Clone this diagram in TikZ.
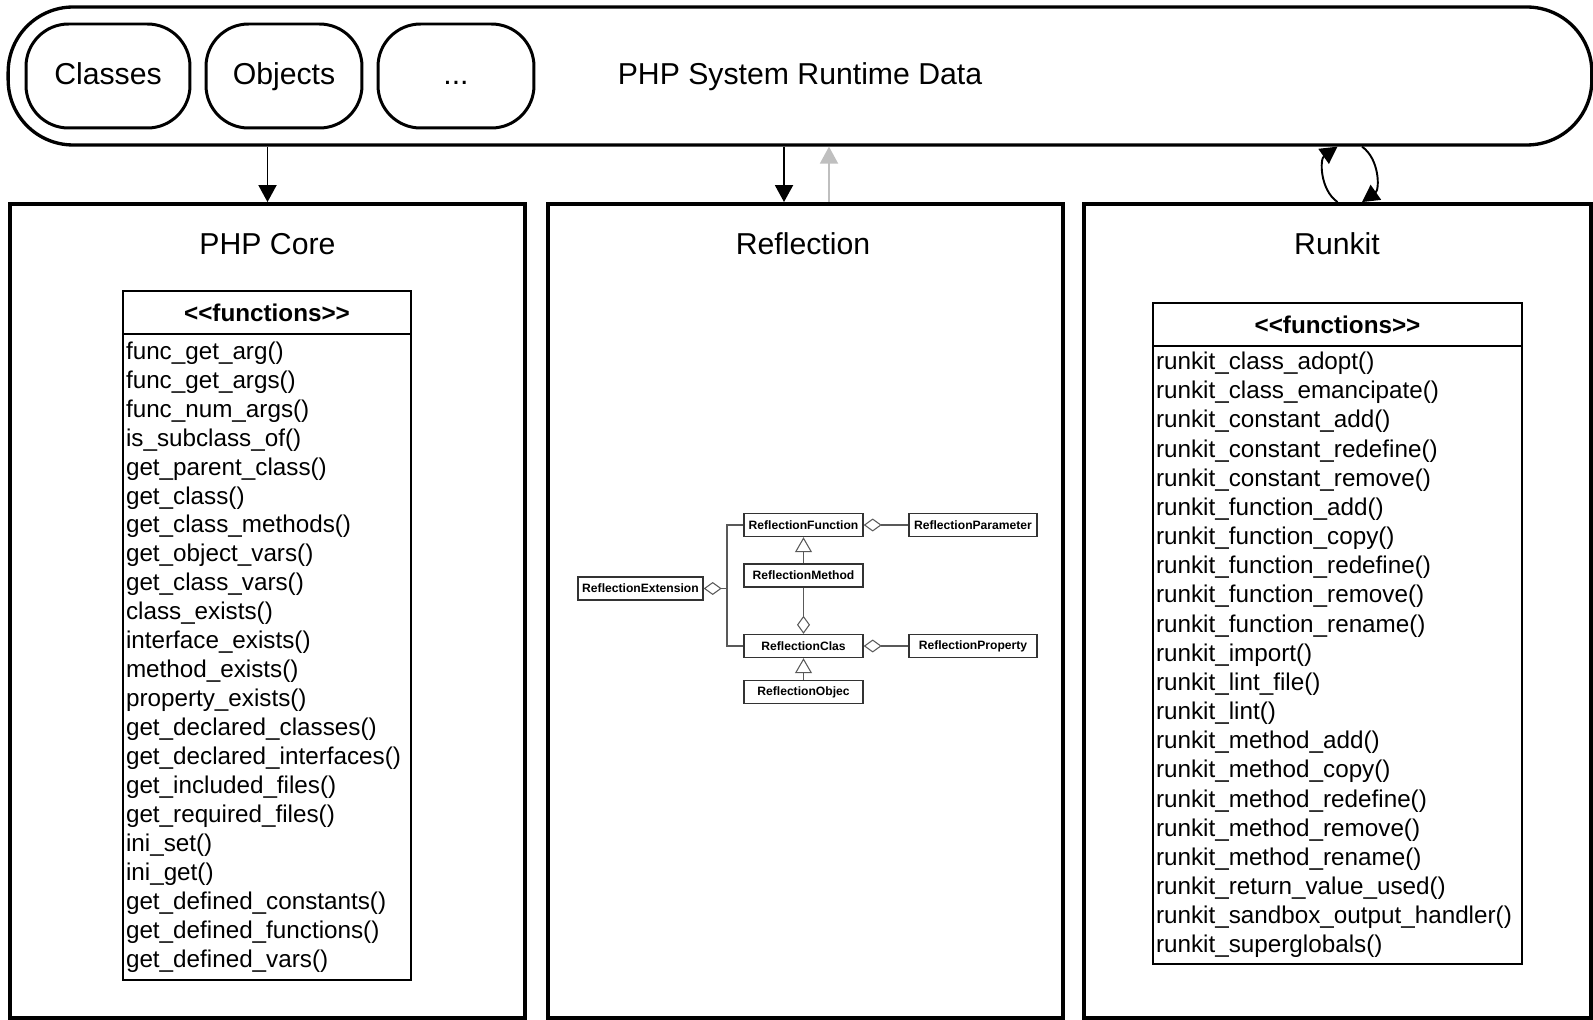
\documentclass[tikz,border=0pt]{standalone}
\usepackage{fontspec}
\setmainfont{Liberation Sans}
\usetikzlibrary{arrows.meta,positioning}

\begin{document}
\begin{tikzpicture}[x=0.02cm,y=-0.02cm,
    big/.style={font=\fontsize{17.2}{20}\selectfont,text height=12.4pt,text depth=2.5pt},
    pill/.style={big,draw,line width=1.7pt,rounded corners=0.85cm,minimum height=2.08cm},
    panel/.style={draw,line width=2.3pt,minimum height=16.28cm},
    head/.style={draw,line width=1pt,outer sep=0pt,minimum height=0.87cm,font=\bfseries\fontsize{13.8}{16.5}\selectfont},
    fnlist/.style={draw,line width=1pt,outer sep=0pt,align=left,inner xsep=0.06cm,font=\fontsize{13.8}{16.5}\selectfont},
    cls/.style={draw=black!80,line width=0.8pt,minimum height=0.46cm,inner sep=0pt,font=\bfseries\fontsize{6.9}{8}\selectfont},
    link/.style={draw=black!65,line width=0.6pt},
    agg/.style={link,-{Diamond[open,length=0.36cm,width=0.26cm]}},
    inh/.style={link,-{Triangle[open,length=0.3cm,width=0.34cm]}},
    flow/.style={line width=1.1pt,-{Triangle[length=0.34cm,width=0.36cm]}}]
    \useasboundingbox (0,0) rectangle (1593,1020);
    \node[draw,line width=1.9pt,rounded corners=1.3cm,minimum width=31.68cm,minimum height=2.76cm,big] (runtime) at (800,76) {PHP System Runtime Data};
    \node[pill,minimum width=3.28cm] (classes) at (108,76) {Classes};
    \node[pill,minimum width=3.12cm] (objects) at (284,76) {Objects};
    \node[pill,minimum width=3.12cm] (more) at (456,76) {...};

    \node[panel,minimum width=10.3cm] (core) at (267.5,611) {};
    \node[panel,minimum width=10.3cm] (refl) at (805.5,611) {};
    \node[panel,minimum width=10.14cm] (kit) at (1337.5,611) {};
    \node[big] (core title) at (267.5,246) {PHP Core};
    \node[big] (refl title) at (803,246) {Reflection};
    \node[big] (kit title) at (1337,246) {Runkit};

    \node[head,minimum width=5.76cm] (core head) at (267,312.5) {<\kern0pt<functions>\kern0pt>};
    \node[fnlist,text width=5.64cm,minimum height=12.92cm,below=0pt of core head] (core list) {
      func\_get\_arg()\\ func\_get\_args()\\ func\_num\_args()\\ is\_subclass\_of()\\
      get\_parent\_class()\\ get\_class()\\ get\_class\_methods()\\ get\_object\_vars()\\
      get\_class\_vars()\\ class\_exists()\\ interface\_exists()\\ method\_exists()\\
      property\_exists()\\ get\_declared\_classes()\\ get\_declared\_interfaces()\\
      get\_included\_files()\\ get\_required\_files()\\ ini\_set()\\ ini\_get()\\
      get\_defined\_constants()\\ get\_defined\_functions()\\ get\_defined\_vars()};

    \node[head,minimum width=7.38cm] (kit head) at (1337.5,324.5) {<\kern0pt<functions>\kern0pt>};
    \node[fnlist,text width=7.26cm,minimum height=12.25cm,below=0pt of kit head,font=\fontsize{13.8}{16.6}\selectfont] (kit list) {
      runkit\_class\_adopt()\\ runkit\_class\_emancipate()\\ runkit\_constant\_add()\\
      runkit\_constant\_redefine()\\ runkit\_constant\_remove()\\ runkit\_function\_add()\\
      runkit\_function\_copy()\\ runkit\_function\_redefine()\\ runkit\_function\_remove()\\
      runkit\_function\_rename()\\ runkit\_import()\\ runkit\_lint\_file()\\ runkit\_lint()\\
      runkit\_method\_add()\\ runkit\_method\_copy()\\ runkit\_method\_redefine()\\
      runkit\_method\_remove()\\ runkit\_method\_rename()\\ runkit\_return\_value\_used()\\
      runkit\_sandbox\_output\_handler()\\ runkit\_superglobals()};

    \node[cls,minimum width=2.38cm] (func) at (803.5,525) {ReflectionFunction};
    \node[cls,minimum width=2.56cm] (param) at (973,525) {ReflectionParameter};
    \node[cls,minimum width=2.38cm] (method) at (803.5,575.5) {ReflectionMethod};
    \node[cls,minimum width=2.5cm] (ext) at (640.5,588.5) {ReflectionExtension};
    \node[cls,minimum width=2.38cm] (clas) at (803.5,646) {ReflectionClas};
    \node[cls,minimum width=2.56cm] (prop) at (973,646) {ReflectionProperty};
    \node[cls,minimum width=2.38cm] (objec) at (803.5,692) {ReflectionObjec};
    \coordinate (ext join) at (727,588.5);
    \draw[agg] (param) -- (func);
    \draw[inh] (method) -- (func);
    \draw[agg] (method) -- (clas);
    \draw[agg] (prop) -- (clas);
    \draw[inh] (objec) -- (clas);
    \draw[agg] (ext join) -- (ext);
    \draw[link] (func.west) -| (ext join) |- (clas.west);

    \coordinate (refl down) at ([xshift=-0.43cm]refl.north);
    \coordinate (refl up) at ([xshift=0.47cm]refl.north);
    \coordinate (kit back) at ([xshift=0.49cm]kit.north);
    \draw[flow] (core.north |- runtime.south) -- (core.north);
    \draw[flow] (refl down |- runtime.south) -- (refl down);
    \draw[flow,black!25] (refl up) -- (refl up |- runtime.south);
    \draw[flow] (kit.north) to[bend left=55] (kit.north |- runtime.south);
    \draw[flow] (kit back |- runtime.south) to[bend left=55] (kit back);
\end{tikzpicture}
\end{document}
